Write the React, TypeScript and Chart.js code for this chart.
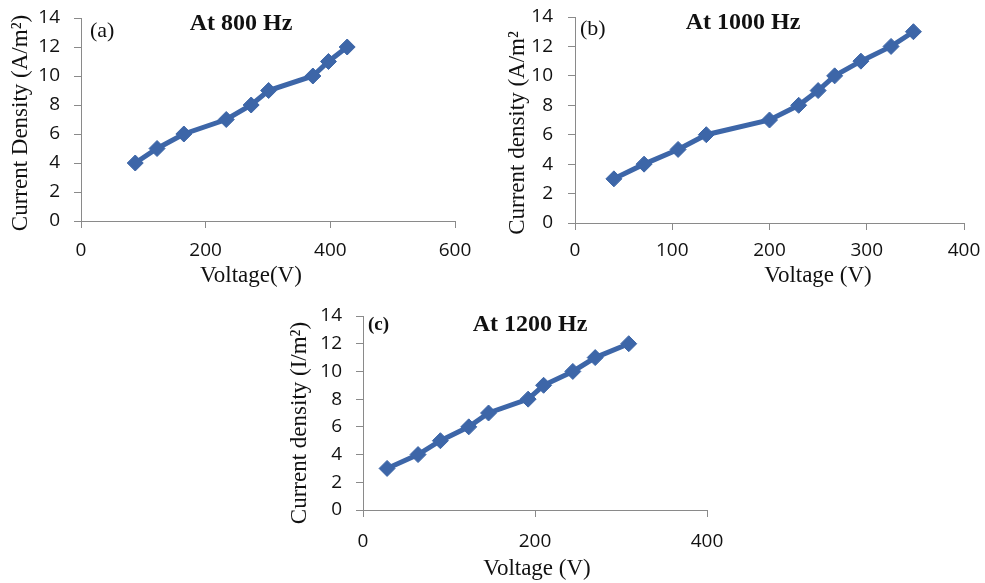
import React, { useEffect, useRef } from 'react';
import { Chart, registerables } from 'chart.js';

Chart.register(...registerables);

// ---- data ----
const voltageA = [87, 122, 165, 233, 273, 301, 372, 397, 427];
const densityA = [4, 5, 6, 7, 8, 9, 10, 11, 12];
const voltageB = [40, 71, 106, 135, 200, 230, 250, 267, 294, 325, 348];
const densityB = [3, 4, 5, 6, 7, 8, 9, 10, 11, 12, 13];
const voltageC = [28, 64, 90, 123, 146, 192, 210, 244, 270, 309];
const densityC = [3, 4, 5, 6, 7, 8, 9, 10, 11, 12];

const xTicksA = [0, 200, 400, 600];
const xTicksB = [0, 100, 200, 300, 400];
const xTicksC = [0, 200, 400];
const yTicks = [0, 2, 4, 6, 8, 10, 12, 14];

const LINE = '#3D66A8';
const AXIS = '#8a8a8a';
const TICK_FONT = { family: '"Open Sans", "Liberation Sans", sans-serif', size: 19 };
const SERIF = '"Liberation Serif", "Times New Roman", serif';

// draws panel tags, in-plot titles and axis titles relative to the chart area
const panelLabels = {
  id: 'panelLabels',
  afterDraw(chart: any, _args: any, opts: any) {
    const { ctx, chartArea } = chart;
    ctx.save();
    ctx.fillStyle = '#111';
    ctx.textBaseline = 'middle';
    for (const item of opts.items || []) {
      ctx.save();
      ctx.font = item.font;
      ctx.textAlign = item.align;
      const baseY = item.from === 'bottom' ? chartArea.bottom : chartArea.top;
      ctx.translate(chartArea.left + item.dx, baseY + item.dy);
      if (item.rotate) ctx.rotate(item.rotate);
      ctx.fillText(item.text, 0, 0);
      ctx.restore();
    }
    ctx.restore();
  },
};

type PanelProps = {
  left: number; top: number; width: number; height: number;
  xs: number[]; ys: number[]; xTicks: number[];
  yAxisWidth: number; xAxisHeight: number;
  padTop: number; padRight: number;
  xTickPad: number; yTickPad: number;
  labels: any[];
};

function Panel(p: PanelProps) {
  const ref = useRef<HTMLCanvasElement | null>(null);
  useEffect(() => {
    if (!ref.current) return;
    const data = p.xs.map((x, i) => ({ x, y: p.ys[i] }));
    const gridOpts = {
      display: true,
      drawOnChartArea: false,
      drawTicks: true,
      tickLength: 7,
      color: AXIS,
      lineWidth: 1,
    };
    const chart = new Chart(ref.current, {
      type: 'line',
      data: {
        datasets: [
          {
            data,
            borderColor: LINE,
            backgroundColor: LINE,
            borderWidth: 5,
            pointStyle: 'rectRot',
            pointRadius: 8,
            pointBorderWidth: 1,
            pointBorderColor: LINE,
            pointBackgroundColor: LINE,
            tension: 0,
          },
        ],
      },
      options: {
        responsive: false,
        animation: false,
        devicePixelRatio: 1,
        layout: { padding: { top: p.padTop, right: p.padRight, left: 0, bottom: 0 } },
        plugins: {
          legend: { display: false },
          tooltip: { enabled: false },
          panelLabels: { items: p.labels },
        } as any,
        scales: {
          x: {
            type: 'linear',
            min: p.xTicks[0],
            max: p.xTicks[p.xTicks.length - 1],
            afterBuildTicks: (s: any) => { s.ticks = p.xTicks.map((v) => ({ value: v })); },
            afterFit: (s: any) => { s.height = p.xAxisHeight; s.paddingLeft = 0; s.paddingRight = 0; },
            grid: gridOpts,
            border: { display: true, color: AXIS, width: 1 },
            ticks: { font: TICK_FONT, color: '#111', padding: p.xTickPad, maxRotation: 0 },
          },
          y: {
            type: 'linear',
            min: yTicks[0],
            max: yTicks[yTicks.length - 1],
            afterBuildTicks: (s: any) => { s.ticks = yTicks.map((v) => ({ value: v })); },
            afterFit: (s: any) => { s.width = p.yAxisWidth; s.paddingTop = 0; s.paddingBottom = 0; },
            grid: gridOpts,
            border: { display: true, color: AXIS, width: 1 },
            ticks: { font: TICK_FONT, color: '#111', padding: p.yTickPad },
          },
        },
      } as any,
      plugins: [panelLabels as any],
    });
    return () => chart.destroy();
  }, []);
  return (
    <div style={{ position: 'absolute', left: p.left, top: p.top, width: p.width, height: p.height }}>
      <canvas ref={ref} width={p.width} height={p.height} />
    </div>
  );
}

const ROT = -Math.PI / 2;

export default function App() {
  return (
    <div style={{ position: 'absolute', left: 0, top: 0, width: 985, height: 583, background: '#fff', overflow: 'hidden' }}>
      <Panel
        left={0} top={0} width={485} height={292}
        xs={voltageA} ys={densityA} xTicks={xTicksA}
        yAxisWidth={81} xAxisHeight={71} padTop={18} padRight={30}
        xTickPad={11} yTickPad={14}
        labels={[
          { text: '(a)', font: `22px ${SERIF}`, align: 'left', dx: 9, dy: 13 },
          { text: 'At 800 Hz', font: `bold 24px ${SERIF}`, align: 'center', dx: 160, dy: 6 },
          { text: 'Voltage(V)', font: `23px ${SERIF}`, align: 'center', dx: 170, dy: 55, from: 'bottom' },
          { text: 'Current Density (A/m²)', font: `23px ${SERIF}`, align: 'center', dx: -60, dy: 105, rotate: ROT },
        ]}
      />
      <Panel
        left={490} top={0} width={495} height={292}
        xs={voltageB} ys={densityB} xTicks={xTicksB}
        yAxisWidth={85} xAxisHeight={69} padTop={17} padRight={21}
        xTickPad={9} yTickPad={15}
        labels={[
          { text: '(b)', font: `22px ${SERIF}`, align: 'left', dx: 5, dy: 12 },
          { text: 'At 1000 Hz', font: `bold 24px ${SERIF}`, align: 'center', dx: 168, dy: 6 },
          { text: 'Voltage (V)', font: `23px ${SERIF}`, align: 'center', dx: 243, dy: 53, from: 'bottom' },
          { text: 'Current density (A/m²', font: `23px ${SERIF}`, align: 'center', dx: -57, dy: 116, rotate: ROT },
        ]}
      />
      <Panel
        left={275} top={300} width={450} height={283}
        xs={voltageC} ys={densityC} xTicks={xTicksC}
        yAxisWidth={88} xAxisHeight={73} padTop={16} padRight={18}
        xTickPad={13} yTickPad={14}
        labels={[
          { text: '(c)', font: `bold 19px ${SERIF}`, align: 'left', dx: 5, dy: 9 },
          { text: 'At 1200 Hz', font: `bold 24px ${SERIF}`, align: 'center', dx: 167, dy: 9 },
          { text: 'Voltage (V)', font: `23px ${SERIF}`, align: 'center', dx: 174, dy: 59, from: 'bottom' },
          { text: 'Current density (I/m²)', font: `23px ${SERIF}`, align: 'center', dx: -63, dy: 107, rotate: ROT },
        ]}
      />
    </div>
  );
}
